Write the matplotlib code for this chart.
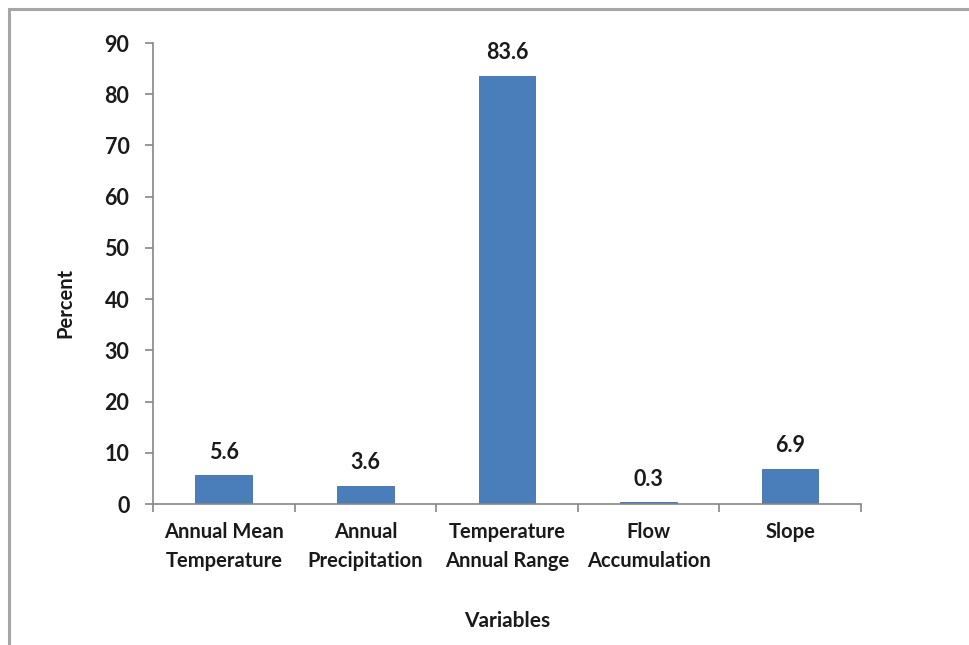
import numpy as np
import matplotlib.pyplot as plt
from matplotlib.patches import Rectangle

# data
categories = ['Annual Mean\nTemperature', 'Annual\nPrecipitation',
              'Temperature\nAnnual Range', 'Flow\nAccumulation', 'Slope']
percent = [5.6, 3.6, 83.6, 0.3, 6.9]
y_ticks = [0, 10, 20, 30, 40, 50, 60, 70, 80, 90]

plt.rcParams['font.family'] = ['Lato', 'DejaVu Sans']
plt.rcParams['font.weight'] = 'bold'
text_color = '#1a1a1a'
axis_color = '#868686'
bar_color = '#4a7ebb'

fig = plt.figure(figsize=(9.69, 6.45), dpi=100)
ax = fig.add_axes([0.1579, 0.2186, 0.7306, 0.7147])

# frame around the chart area (only top and left are visible in the reference)
fig.patches.append(Rectangle((9 / 969, -0.05), 1.2, 1 - 9 / 645 + 0.05,
                             transform=fig.transFigure, fill=False,
                             edgecolor='#a6a6a6', linewidth=2.2, clip_on=False))

x = np.arange(len(categories))
bars = ax.bar(x, percent, width=0.4, color=bar_color, edgecolor='#3f6fa8', linewidth=0.6)

for xi, v in zip(x, percent):
    ax.annotate(f'{v:.1f}', (xi, v), xytext=(0, 9), textcoords='offset points',
                ha='center', va='bottom', fontsize=15.5, fontweight='bold', color=text_color)

ax.set_xlim(-0.5, len(categories) - 0.5)
ax.set_ylim(0, 90)
ax.set_yticks(y_ticks)
ax.set_xticks(x)
ax.set_xticklabels(categories, fontsize=14.5, fontweight='bold', color=text_color,
                   linespacing=1.55)
ax.set_xticks(np.arange(-0.5, len(categories)), minor=True)
ax.tick_params(axis='x', which='major', length=0, pad=13)
ax.tick_params(axis='x', which='minor', length=6, color=axis_color, width=1.2, direction='out')
ax.tick_params(axis='y', length=6, color=axis_color, width=1.2, direction='out',
               labelsize=15.5, labelcolor=text_color, pad=11)
for lbl in ax.get_yticklabels():
    lbl.set_fontweight('bold')

for side in ['top', 'right']:
    ax.spines[side].set_visible(False)
for side in ['left', 'bottom']:
    ax.spines[side].set_color(axis_color)
    ax.spines[side].set_linewidth(1.2)

ax.set_xlabel('Variables', fontsize=15, fontweight='bold', color=text_color)
ax.xaxis.set_label_coords(0.5, -0.232)
ax.set_ylabel('Percent', fontsize=14.5, fontweight='bold', color=text_color)
ax.yaxis.set_label_coords(-0.11, 0.436)

fig.savefig('out.png', dpi=100)
